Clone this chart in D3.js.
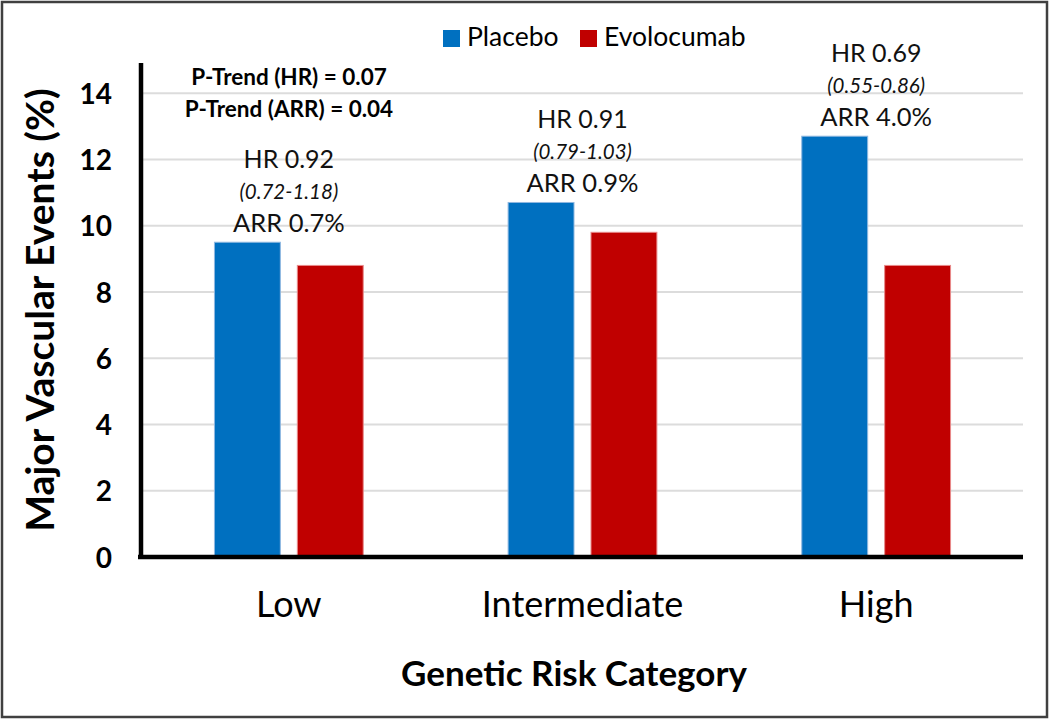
<!DOCTYPE html>
<html><head><meta charset="utf-8">
<script src="https://cdn.jsdelivr.net/npm/d3@7"></script>
<style>body{margin:0;background:#fff}svg{display:block}text{font-family:Lato,"Open Sans",sans-serif}</style>
</head><body><svg id="c" width="1050" height="719"></svg>
<script>
const categories = ["Low", "Intermediate", "High"];
const seriesNames = ["Placebo", "Evolocumab"];
const placebo = [9.5, 10.7, 12.7];
const evolocumab = [8.8, 9.8, 8.8];
const hrLabels = ["HR 0.92", "HR 0.91", "HR 0.69"];
const ciLabels = ["(0.72-1.18)", "(0.79-1.03)", "(0.55-0.86)"];
const arrLabels = ["ARR 0.7%", "ARR 0.9%", "ARR 4.0%"];
const yTicks = [0, 2, 4, 6, 8, 10, 12, 14];
const pTrend = ["P-Trend (HR) = 0.07", "P-Trend (ARR) = 0.04"];
const colors = ["#0070C0", "#C00000"];
const edgeColors = ["#8fb8e0", "#e88a8a"];

const svg = d3.select("#c");
const L = 142, R = 1023, B = 557, T = 60;
const y = d3.scaleLinear().domain([0, 15]).range([B, T]);
const x0 = d3.scaleBand().domain(categories).range([L, R]);
const x1 = d3.scaleBand().domain(seriesNames).range([0, x0.bandwidth()]).paddingInner(0.193).paddingOuter(0.868);
const color = d3.scaleOrdinal().domain(seriesNames).range(colors);
const edge = d3.scaleOrdinal().domain(seriesNames).range(edgeColors);

svg.append("rect").attr("x", 0).attr("y", 0).attr("width", 1050).attr("height", 719).attr("fill", "#fff");
svg.append("rect").attr("x", 2).attr("y", 2).attr("width", 1045).attr("height", 715)
  .attr("fill", "none").attr("stroke", "#404040").attr("stroke-width", 2.5);

// gridlines
svg.append("g").selectAll("line").data(yTicks.filter(d => d > 0)).join("line")
  .attr("x1", L).attr("x2", R).attr("y1", d => y(d)).attr("y2", d => y(d))
  .attr("stroke", "#dcdcdc").attr("stroke-width", 2);

// bars
const rows = categories.map((c, i) => ({ cat: c, vals: [{ s: seriesNames[0], v: placebo[i] }, { s: seriesNames[1], v: evolocumab[i] }] }));
const g = svg.append("g").selectAll("g").data(rows).join("g")
  .attr("transform", d => `translate(${x0(d.cat)},0)`);
g.selectAll("rect").data(d => d.vals).join("rect")
  .attr("x", d => x1(d.s) + 0.5).attr("width", x1.bandwidth() - 1)
  .attr("y", d => y(d.v)).attr("height", d => B - y(d.v))
  .attr("fill", d => color(d.s)).attr("stroke", d => edge(d.s)).attr("stroke-width", 1);

// y axis
const ya = svg.append("g").attr("transform", `translate(${L - 1},0)`)
  .call(d3.axisLeft(y).tickValues(yTicks).tickSize(0).tickSizeOuter(0).tickPadding(29));
ya.select(".domain").attr("stroke", "#000").attr("stroke-width", 4.5).attr("d", `M0,${y(0) + 2}V${63}`);
ya.selectAll(".tick text").attr("font-size", 28).attr("font-weight", "bold").attr("fill", "#000")
  .attr("font-family", "Lato, sans-serif").attr("dy", "0.36em");

// x axis
const xa = svg.append("g").attr("transform", `translate(0,${B})`)
  .call(d3.axisBottom(x0).tickSize(0).tickSizeOuter(0));
xa.select(".domain").attr("stroke", "#000").attr("stroke-width", 4.5).attr("d", `M${L - 4},0H${R}`);
xa.selectAll(".tick text").attr("font-size", 36).attr("fill", "#000").attr("y", 60).attr("dy", 0)
  .attr("font-family", "Lato, sans-serif");

// axis titles
svg.append("text").attr("transform", "translate(54,310) rotate(-90)").attr("text-anchor", "middle")
  .attr("font-size", 39).attr("font-weight", "bold").text("Major Vascular Events (%)");
svg.append("text").attr("x", 574).attr("y", 686).attr("text-anchor", "middle")
  .attr("font-size", 35).attr("font-weight", "bold").text("Genetic Risk Category");

// annotations
const ann = svg.append("g").selectAll("g").data(categories).join("g")
  .attr("transform", (d, i) => `translate(${x0(d) + x0.bandwidth() / 2},${y(placebo[i])})`)
  .attr("text-anchor", "middle").attr("fill", "#111");
ann.append("text").attr("y", -74).attr("font-size", 25).text((d, i) => hrLabels[i]);
ann.append("text").attr("y", -43).attr("font-size", 20.5).attr("font-style", "italic").text((d, i) => ciLabels[i]);
ann.append("text").attr("y", -10).attr("font-size", 25.5).text((d, i) => arrLabels[i]);

// p-trend
svg.append("g").selectAll("text").data(pTrend).join("text")
  .attr("x", 289).attr("y", (d, i) => 85 + i * 32).attr("text-anchor", "middle")
  .attr("font-size", 22.5).attr("font-weight", "bold").text(d => d);

// legend
const legX = [443, 580];
const lg = svg.append("g").selectAll("g").data(seriesNames).join("g")
  .attr("transform", (d, i) => `translate(${legX[i]},30)`);
lg.append("rect").attr("width", 17).attr("height", 17).attr("fill", d => color(d));
lg.append("text").attr("x", 24).attr("y", 16).attr("font-size", 26.5).text(d => d);
</script></body></html>
